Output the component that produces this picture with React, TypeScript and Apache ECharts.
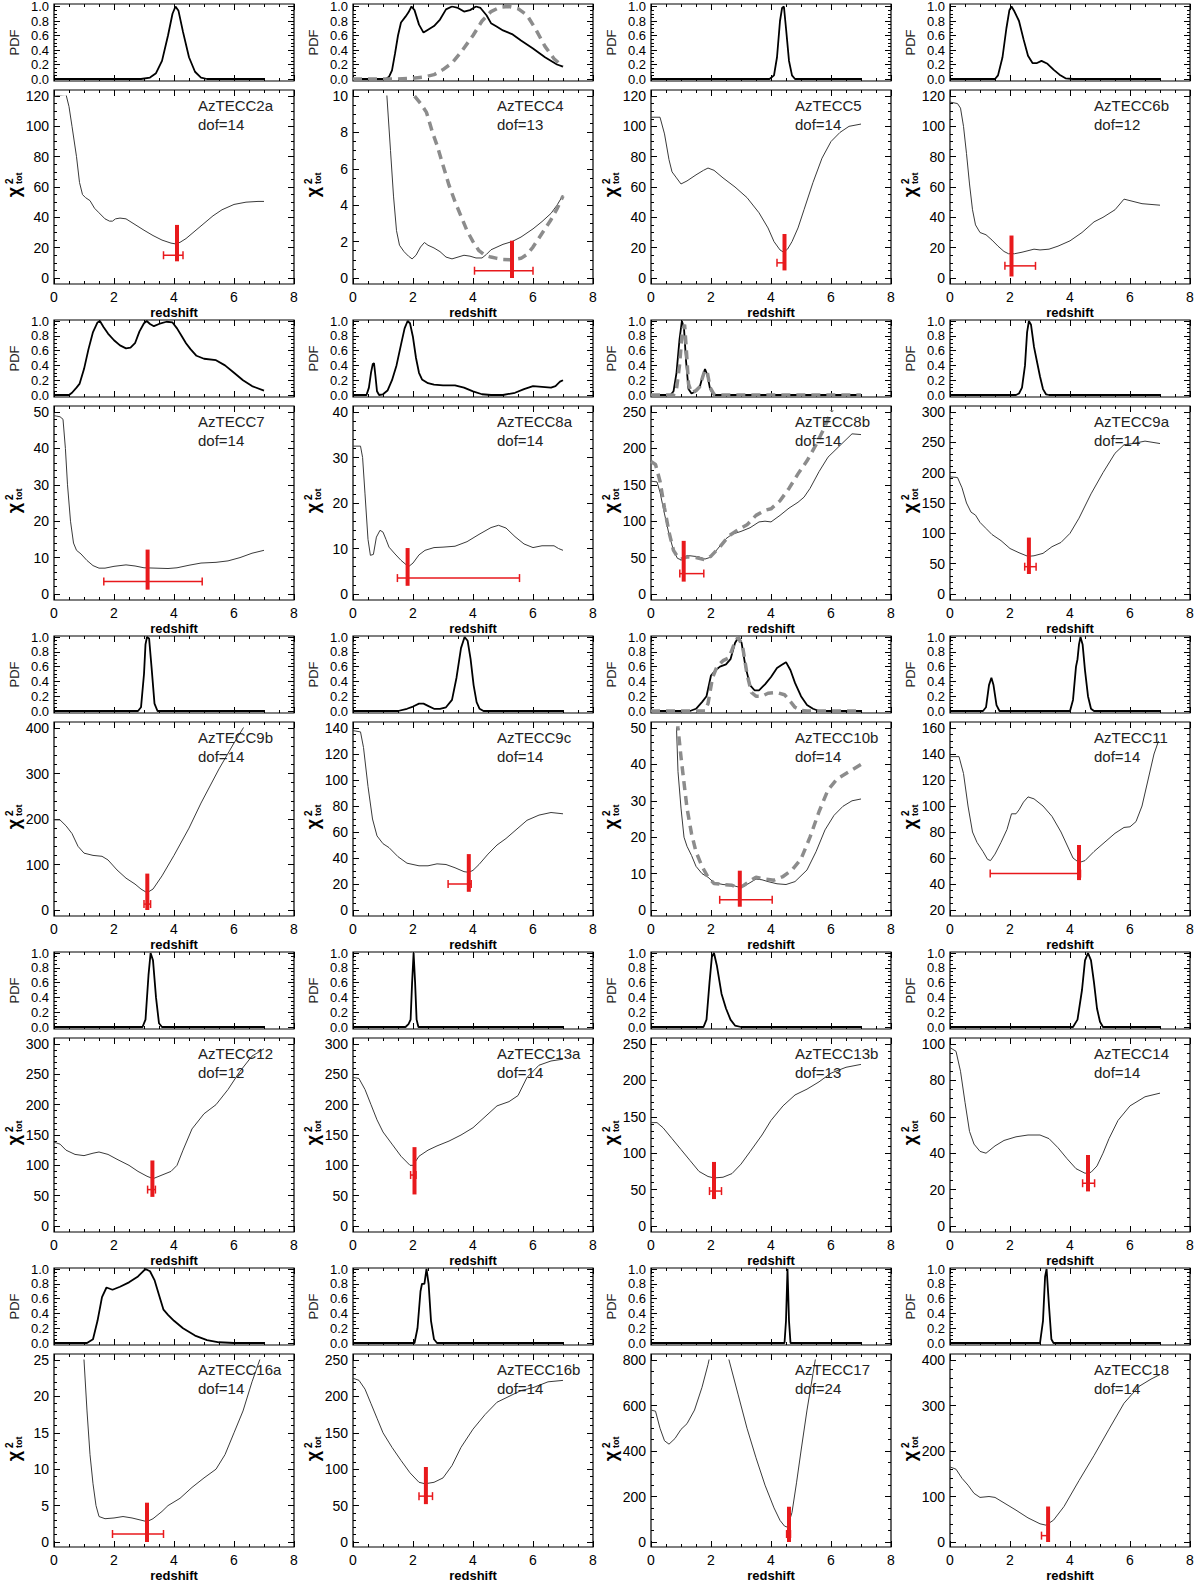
import React, { useEffect, useRef } from "react";
import * as echarts from "echarts";

type Pt = [number, number];

// ---------- data: [redshift, value] ----------
const pdfC2a: Pt[] = [[0,0],[2.9,0],[3.2,0.02],[3.4,0.08],[3.6,0.25],[3.8,0.6],[3.95,0.9],[4.05,1.0],[4.15,0.94],[4.3,0.65],[4.5,0.3],[4.7,0.1],[4.9,0.02],[5.1,0],[7,0]];
const chiC2a: Pt[] = [[0,120],[0.4,121],[0.5,113],[0.6,100],[0.75,80],[0.85,63],[0.95,55],[1.05,53],[1.2,51],[1.35,46],[1.5,43],[1.7,39],[1.85,37.5],[1.95,37.5],[2.05,39],[2.2,39.5],[2.4,39],[2.6,36.5],[2.8,34],[3.0,31.5],[3.3,28],[3.6,25],[3.9,23],[4.05,22.5],[4.2,23.5],[4.4,26],[4.7,31],[5.0,36],[5.3,41],[5.6,45],[6.0,48.5],[6.4,50],[6.8,50.5],[7.0,50.5]];
const fitC2a = [4.1, 11, 35, 3.65, 4.3, 15];

const pdfC4: Pt[] = [[0,0],[1.1,0],[1.2,0.03],[1.3,0.12],[1.4,0.35],[1.5,0.6],[1.6,0.78],[1.75,0.86],[1.85,0.92],[1.95,1.0],[2.05,0.95],[2.2,0.75],[2.35,0.64],[2.5,0.68],[2.7,0.73],[2.9,0.82],[3.1,0.96],[3.3,1.0],[3.5,0.98],[3.7,0.93],[3.9,0.95],[4.1,1.0],[4.25,0.98],[4.45,0.88],[4.6,0.77],[4.8,0.72],[5.0,0.67],[5.3,0.62],[5.6,0.53],[6.0,0.42],[6.4,0.3],[6.8,0.2],[7.0,0.17]];
const pdfC4Alt: Pt[] = [[0,0],[1.5,0],[2.0,0.01],[2.4,0.03],[2.7,0.06],[3.0,0.13],[3.3,0.22],[3.6,0.37],[4.0,0.6],[4.3,0.8],[4.6,0.93],[4.9,0.99],[5.2,1.0],[5.5,0.97],[5.8,0.88],[6.1,0.68],[6.4,0.45],[6.7,0.28],[7.0,0.17]];
const chiC4: Pt[] = [[1.0,14],[1.13,10],[1.25,7],[1.35,4.5],[1.45,2.6],[1.55,1.8],[1.7,1.45],[1.85,1.2],[1.97,1.05],[2.1,1.25],[2.25,1.7],[2.38,1.95],[2.5,1.8],[2.7,1.65],[2.9,1.45],[3.1,1.15],[3.3,1.05],[3.5,1.15],[3.7,1.25],[3.9,1.2],[4.1,1.1],[4.3,1.1],[4.45,1.3],[4.6,1.55],[4.8,1.7],[5.0,1.85],[5.3,2.0],[5.6,2.25],[6.0,2.7],[6.3,3.1],[6.6,3.55],[6.8,4.0],[7.0,4.55]];
const chiC4Alt: Pt[] = [[1.95,10.8],[2.05,10],[2.25,9.6],[2.45,9.1],[2.65,8.0],[2.8,7.3],[3.0,6.2],[3.2,5.1],[3.4,4.2],[3.6,3.4],[3.8,2.6],[4.0,2.0],[4.2,1.5],[4.4,1.25],[4.6,1.15],[4.8,1.08],[5.0,1.02],[5.3,1.0],[5.6,1.08],[5.8,1.3],[6.0,1.7],[6.2,2.2],[6.4,2.7],[6.6,3.2],[6.8,3.8],[7.0,4.5]];
const fitC4 = [5.3, 0, 2.05, 4.05, 6.0, 0.4];

const pdfC5: Pt[] = [[0,0],[3.95,0],[4.1,0.05],[4.2,0.3],[4.3,0.8],[4.37,0.98],[4.43,1.0],[4.5,0.7],[4.6,0.25],[4.7,0.05],[4.8,0],[7,0]];
const chiC5: Pt[] = [[0,106],[0.3,106],[0.45,95],[0.6,78],[0.7,70],[0.85,66],[1.0,62],[1.2,64],[1.5,68],[1.75,71],[1.9,72.5],[2.1,71],[2.4,66],[2.8,60],[3.2,53],[3.6,43],[3.9,33],[4.1,24],[4.3,18.5],[4.42,17],[4.55,19],[4.7,24],[4.9,33],[5.1,45],[5.4,63],[5.7,79],[6.0,90],[6.3,96],[6.6,100],[7.0,101.5]];
const fitC5 = [4.45, 5, 29, 4.2, 4.47, 10];

const pdfC6b: Pt[] = [[0,0],[1.5,0],[1.6,0.05],[1.75,0.3],[1.88,0.7],[1.98,0.95],[2.05,1.0],[2.15,0.93],[2.3,0.8],[2.45,0.55],[2.6,0.32],[2.75,0.22],[2.9,0.22],[3.05,0.25],[3.25,0.21],[3.45,0.13],[3.65,0.06],[3.85,0.01],[4.1,0],[7,0]];
const chiC6b: Pt[] = [[0,116],[0.25,115],[0.35,112],[0.45,100],[0.55,82],[0.65,62],[0.75,45],[0.85,35],[1.0,30],[1.2,28.5],[1.4,25],[1.6,21],[1.8,17.5],[1.95,16],[2.15,16],[2.4,17],[2.6,18],[2.8,19],[3.0,18.5],[3.3,19],[3.6,21],[4.0,24.5],[4.4,30],[4.8,37],[5.1,40],[5.5,45],[5.8,52],[6.0,51],[6.4,49],[7.0,48]];
const fitC6b = [2.05, 1, 28, 1.83, 2.85, 8];

const pdfC7: Pt[] = [[0,0],[0.5,0],[0.6,0.03],[0.75,0.1],[0.85,0.15],[1.0,0.35],[1.15,0.62],[1.3,0.85],[1.45,0.98],[1.53,1.0],[1.65,0.92],[1.8,0.83],[2.0,0.74],[2.2,0.67],[2.4,0.63],[2.55,0.64],[2.7,0.7],[2.85,0.86],[3.0,0.97],[3.09,1.0],[3.2,0.96],[3.33,0.93],[3.5,0.96],[3.75,0.99],[3.95,0.98],[4.1,0.9],[4.25,0.8],[4.4,0.7],[4.55,0.62],[4.75,0.53],[5.0,0.49],[5.4,0.47],[5.7,0.4],[6.0,0.3],[6.3,0.2],[6.6,0.12],[7.0,0.06]];
const chiC7: Pt[] = [[0,49],[0.2,48.7],[0.3,48],[0.38,40],[0.45,30],[0.55,20],[0.65,14],[0.75,12],[0.9,11],[1.1,9.2],[1.3,7.8],[1.5,7.1],[1.7,7.1],[2.0,7.6],[2.4,8.0],[2.7,7.7],[3.0,7.2],[3.4,7.1],[3.8,7.0],[4.1,7.2],[4.5,7.9],[4.9,8.5],[5.4,8.7],[5.8,9.1],[6.2,10.0],[6.6,11.2],[7.0,12.0]];
const fitC7 = [3.12, 1.2, 12.2, 1.66, 4.94, 3.4];

const pdfC8a: Pt[] = [[0,0],[0.45,0],[0.53,0.1],[0.6,0.3],[0.66,0.42],[0.7,0.43],[0.75,0.25],[0.8,0.05],[0.87,0],[1.0,0.01],[1.15,0.06],[1.3,0.2],[1.45,0.4],[1.6,0.68],[1.72,0.9],[1.82,1.0],[1.9,0.97],[2.0,0.78],[2.1,0.5],[2.2,0.3],[2.3,0.21],[2.5,0.16],[2.7,0.14],[3.0,0.13],[3.4,0.13],[3.7,0.1],[4.0,0.05],[4.3,0.01],[4.6,0],[5.0,0],[5.4,0.03],[5.7,0.08],[6.0,0.12],[6.3,0.11],[6.6,0.1],[6.75,0.12],[6.9,0.18],[7.0,0.2]];
const chiC8a: Pt[] = [[0,32.5],[0.25,32.5],[0.32,30],[0.4,22],[0.5,12],[0.58,8.5],[0.68,8.7],[0.78,12.5],[0.9,14],[1.0,13.6],[1.1,12],[1.2,10.3],[1.4,8.8],[1.6,7.4],[1.85,6],[2.0,6.8],[2.2,8.6],[2.4,9.6],[2.7,10.2],[3.0,10.3],[3.4,10.5],[3.8,11.5],[4.2,13.1],[4.6,14.6],[4.85,15.1],[5.1,14.5],[5.4,12.6],[5.7,11.0],[6.0,10.2],[6.3,10.6],[6.7,10.6],[6.85,10.0],[7.0,9.6]];
const fitC8a = [1.82, 1.8, 10.1, 1.48, 5.55, 3.5];

const pdfC8b: Pt[] = [[0,0],[0.65,0],[0.75,0.05],[0.85,0.3],[0.95,0.75],[1.03,1.0],[1.1,0.9],[1.17,0.45],[1.25,0.08],[1.35,0.02],[1.5,0.05],[1.62,0.1],[1.72,0.25],[1.8,0.35],[1.88,0.27],[1.97,0.08],[2.1,0],[7,0]];
const pdfC8bAlt: Pt[] = [[0,0],[0.75,0],[0.85,0.08],[0.95,0.4],[1.05,0.88],[1.12,0.95],[1.18,0.6],[1.25,0.15],[1.35,0.03],[1.5,0.06],[1.62,0.11],[1.72,0.24],[1.8,0.34],[1.88,0.3],[1.97,0.1],[2.1,0.01],[2.2,0],[7,0]];
const chiC8b: Pt[] = [[0,155],[0.2,154],[0.3,140],[0.45,110],[0.6,82],[0.75,60],[0.88,49],[1.0,47],[1.1,49],[1.2,53],[1.4,52],[1.6,51],[1.8,48],[1.95,50],[2.1,56],[2.3,66],[2.5,76],[2.7,82],[3.0,86],[3.3,91],[3.6,99],[3.8,100],[4.0,99],[4.3,108],[4.6,118],[4.9,126],[5.1,133],[5.3,145],[5.6,168],[5.9,188],[6.2,200],[6.5,212],[6.7,220],[7.0,219]];
const chiC8bAlt: Pt[] = [[0,182],[0.15,178],[0.3,155],[0.45,118],[0.6,85],[0.75,60],[0.9,50],[1.0,48],[1.2,51],[1.5,50],[1.8,47],[2.0,52],[2.3,65],[2.6,80],[2.9,88],[3.2,95],[3.5,108],[3.8,115],[4.0,117],[4.3,128],[4.6,145],[4.9,165],[5.2,183],[5.5,205],[5.8,230],[6.0,250],[6.2,268]];
const fitC8b = [1.09, 17, 73, 0.96, 1.76, 28];

const pdfC9a: Pt[] = [[0,0],[2.2,0],[2.3,0.02],[2.4,0.1],[2.5,0.4],[2.57,0.85],[2.63,1.0],[2.7,0.95],[2.8,0.65],[2.9,0.45],[3.0,0.25],[3.1,0.08],[3.2,0.01],[3.3,0],[7,0]];
const chiC9a: Pt[] = [[0,193],[0.25,192],[0.4,175],[0.55,150],[0.7,135],[0.85,130],[1.0,118],[1.2,108],[1.4,98],[1.7,88],[2.0,75],[2.3,68],[2.6,62],[2.8,63],[3.1,67],[3.4,78],[3.7,85],[4.0,100],[4.3,125],[4.7,165],[5.1,200],[5.5,232],[5.8,246],[6.1,248],[6.5,252],[7.0,248]];
const fitC9a = [2.63, 33, 93, 2.49, 2.87, 45];

const pdfC9b: Pt[] = [[0,0],[2.8,0],[2.9,0.05],[3.0,0.5],[3.05,0.9],[3.1,1.0],[3.17,0.98],[3.25,0.6],[3.35,0.1],[3.45,0],[7,0]];
const chiC9b: Pt[] = [[0,198],[0.2,198],[0.4,185],[0.6,168],[0.8,140],[1.0,125],[1.3,120],[1.6,118],[1.8,110],[2.1,88],[2.4,70],[2.7,57],[2.9,46],[3.1,38],[3.3,46],[3.6,75],[4.0,120],[4.5,180],[4.9,235],[5.5,310],[6.0,367],[6.4,410]];
const fitC9b = [3.11, 0, 80, 3.0, 3.22, 13];

const pdfC9c: Pt[] = [[0,0],[1.5,0],[1.8,0.03],[2.0,0.06],[2.2,0.1],[2.35,0.1],[2.5,0.07],[2.7,0.03],[2.9,0.03],[3.1,0.05],[3.3,0.15],[3.45,0.45],[3.6,0.85],[3.72,1.0],[3.82,0.95],[3.92,0.7],[4.02,0.35],[4.12,0.12],[4.22,0.03],[4.35,0],[7,0]];
const chiC9c: Pt[] = [[0,138],[0.25,137],[0.35,125],[0.5,95],[0.65,70],[0.8,57],[1.0,51],[1.2,48],[1.5,41],[1.8,36],[2.2,34],[2.5,34],[2.8,35.5],[3.1,35],[3.4,32.5],[3.7,29.5],[3.86,29],[4.0,30.5],[4.2,35],[4.5,43],[4.8,50],[5.1,55],[5.4,61],[5.8,69],[6.2,73],[6.6,75],[7.0,74]];
const fitC9c = [3.86, 14, 43, 3.17, 3.94, 20];

const pdfC10b: Pt[] = [[0,0],[1.3,0],[1.5,0.03],[1.7,0.12],[1.85,0.2],[2.0,0.48],[2.15,0.55],[2.3,0.6],[2.5,0.63],[2.65,0.7],[2.8,0.92],[2.92,1.0],[3.02,0.92],[3.15,0.6],[3.3,0.35],[3.45,0.28],[3.6,0.28],[3.8,0.36],[4.0,0.46],[4.2,0.58],[4.35,0.62],[4.5,0.66],[4.65,0.55],[4.8,0.38],[5.0,0.2],[5.2,0.08],[5.4,0.03],[5.6,0],[7,0]];
const pdfC10bAlt: Pt[] = [[0,0],[1.8,0],[1.9,0.1],[2.05,0.45],[2.2,0.6],[2.4,0.68],[2.6,0.72],[2.75,0.88],[2.9,1.0],[3.05,0.88],[3.2,0.5],[3.35,0.25],[3.5,0.2],[3.7,0.2],[3.9,0.24],[4.2,0.25],[4.45,0.22],[4.6,0.15],[4.8,0.05],[5.0,0.01],[5.2,0],[7,0]];
const chiC10b: Pt[] = [[0.8,60],[0.85,50],[0.9,38],[1.0,28],[1.1,20],[1.2,17.5],[1.35,15],[1.5,12],[1.7,10],[1.9,9],[2.1,7.5],[2.4,7],[2.7,6.8],[2.92,6.3],[3.1,6.5],[3.3,7.5],[3.5,8.5],[3.7,8.3],[3.9,7.8],[4.2,7.2],[4.5,7.0],[4.8,7.8],[5.2,11],[5.5,16],[5.8,22],[6.1,26],[6.4,28.5],[6.7,30],[7.0,30.5]];
const chiC10bAlt: Pt[] = [[0.8,60],[0.9,50],[1.0,42],[1.1,35],[1.2,28],[1.35,21],[1.5,16],[1.7,12],[1.9,9],[2.1,7.3],[2.4,7],[2.7,6.8],[2.92,6],[3.1,6.8],[3.3,8],[3.5,9],[3.8,8.5],[4.1,8.2],[4.4,9.2],[4.7,11],[5.0,14],[5.3,20],[5.6,27],[5.9,33],[6.2,36],[6.6,38],[7.0,40]];
const fitC10b = [2.96, 0.9, 10.8, 2.29, 4.04, 2.8];

const pdfC11: Pt[] = [[0,0],[1.1,0],[1.2,0.05],[1.3,0.35],[1.38,0.45],[1.45,0.35],[1.55,0.08],[1.65,0],[4.0,0],[4.1,0.15],[4.2,0.6],[4.25,0.7],[4.3,0.9],[4.35,1.0],[4.42,0.9],[4.5,0.55],[4.6,0.2],[4.7,0.03],[4.8,0],[7,0]];
const chiC11: Pt[] = [[0,138],[0.3,138],[0.45,125],[0.6,100],[0.75,80],[0.9,72],[1.1,65],[1.25,59],[1.35,58],[1.5,63],[1.7,72],[1.9,82],[2.05,94],[2.2,94],[2.3,97],[2.45,103],[2.6,107],[2.8,105.5],[3.1,100],[3.4,92],[3.7,80],[3.9,70],[4.1,60],[4.3,56.5],[4.5,58],[4.8,65],[5.1,71],[5.5,79],[5.8,83.5],[6.0,84],[6.2,88],[6.4,100],[6.6,120],[6.8,140],[6.95,150]];
const fitC11 = [4.3, 43, 70, 1.34, 4.35, 48];

const pdfC12: Pt[] = [[0,0],[2.95,0],[3.05,0.1],[3.15,0.7],[3.22,1.0],[3.3,0.9],[3.4,0.4],[3.5,0.05],[3.6,0],[7,0]];
const chiC12: Pt[] = [[0,138],[0.2,135],[0.4,125],[0.7,118],[1.0,116],[1.3,120],[1.5,122],[1.8,118],[2.1,110],[2.5,100],[2.8,90],[3.1,82],[3.3,78],[3.6,84],[3.9,90],[4.1,100],[4.3,125],[4.6,160],[5.0,185],[5.4,200],[5.8,225],[6.2,255],[6.6,280],[7.0,292]];
const fitC12 = [3.28, 48, 108, 3.12, 3.38, 60];

const pdfC13a: Pt[] = [[0,0],[1.75,0],[1.85,0.04],[1.92,0.1],[1.97,0.6],[2.02,1.0],[2.07,0.6],[2.12,0.1],[2.18,0],[7,0]];
const chiC13a: Pt[] = [[0,245],[0.2,243],[0.4,225],[0.6,200],[0.8,175],[1.0,155],[1.3,135],[1.6,115],[1.9,100],[2.0,100],[2.2,115],[2.5,125],[2.8,132],[3.2,140],[3.6,150],[4.0,162],[4.4,180],[4.8,198],[5.2,205],[5.5,215],[5.8,245],[6.2,265],[6.6,272],[7.0,275]];
const fitC13a = [2.05, 52, 130, 1.92, 2.1, 84];

const pdfC13b: Pt[] = [[0,0],[1.75,0],[1.85,0.1],[1.95,0.6],[2.03,0.95],[2.1,1.0],[2.2,0.82],[2.35,0.45],[2.5,0.25],[2.65,0.1],[2.8,0.02],[3.0,0],[7,0]];
const chiC13b: Pt[] = [[0,142],[0.2,142],[0.4,135],[0.7,120],[1.0,105],[1.3,90],[1.6,75],[1.9,68],[2.1,66],[2.4,67],[2.7,72],[3.0,85],[3.3,102],[3.7,125],[4.0,145],[4.4,165],[4.8,180],[5.2,188],[5.6,198],[6.0,210],[6.5,218],[7.0,222]];
const fitC13b = [2.1, 37, 88, 1.95, 2.35, 48];

const pdfC14: Pt[] = [[0,0],[4.1,0],[4.25,0.1],[4.4,0.5],[4.5,0.9],[4.6,1.0],[4.7,0.9],[4.8,0.6],[4.9,0.25],[5.0,0.07],[5.1,0],[7,0]];
const chiC14: Pt[] = [[0,98],[0.2,96],[0.35,85],[0.5,68],[0.65,52],[0.8,45],[1.0,41],[1.2,40],[1.5,44],[1.8,47],[2.2,49],[2.6,50],[3.0,50],[3.3,48],[3.6,43],[3.9,37],[4.2,31.5],[4.5,29],[4.7,29.5],[4.9,33],[5.1,40],[5.3,48],[5.6,58],[6.0,66],[6.5,71],[7.0,73]];
const fitC14 = [4.6, 19, 39, 4.42, 4.82, 23.5];

const pdfC16a: Pt[] = [[0,0],[1.1,0],[1.3,0.05],[1.45,0.3],[1.6,0.62],[1.75,0.75],[1.95,0.72],[2.2,0.76],[2.5,0.82],[2.8,0.9],[3.05,1.0],[3.2,0.97],[3.35,0.85],[3.5,0.65],[3.65,0.45],[3.8,0.38],[4.0,0.3],[4.3,0.2],[4.7,0.1],[5.1,0.04],[5.5,0.01],[6.0,0],[7,0]];
const chiC16a: Pt[] = [[0.95,28],[1.0,25],[1.1,18],[1.2,12],[1.3,8],[1.4,5],[1.5,3.5],[1.7,3.2],[2.0,3.3],[2.3,3.5],[2.6,3.3],[2.9,3.0],[3.1,2.8],[3.3,3.2],[3.6,4.2],[3.8,5.0],[4.2,6.0],[4.6,7.5],[5.0,8.8],[5.4,10],[5.7,12],[6.0,15],[6.3,18],[6.6,22],[6.9,25.5]];
const fitC16a = [3.1, 0, 5.4, 1.95, 3.65, 1.1];

const pdfC16b: Pt[] = [[0,0],[2.05,0],[2.15,0.2],[2.25,0.7],[2.3,0.8],[2.38,0.8],[2.45,1.0],[2.52,0.8],[2.6,0.3],[2.7,0.05],[2.8,0],[7,0]];
const chiC16b: Pt[] = [[0,225],[0.2,222],[0.4,210],[0.6,190],[0.8,170],[1.0,150],[1.3,130],[1.6,112],[1.9,95],[2.2,82],[2.4,80],[2.7,82],[3.0,88],[3.3,105],[3.6,130],[4.0,155],[4.4,175],[4.8,192],[5.2,200],[5.6,208],[6.0,212],[6.5,220],[7.0,222]];
const fitC16b = [2.43, 52, 103, 2.2, 2.65, 63];

const pdfC17: Pt[] = [[0,0],[4.45,0],[4.5,0.3],[4.55,1.0],[4.6,0.3],[4.65,0],[7,0]];
const chiC17: Pt[] = [[0,580],[0.15,575],[0.3,500],[0.45,445],[0.6,430],[0.8,455],[1.0,495],[1.2,520],[1.45,580],[1.7,680],[1.9,780],[2.0,840],[2.5,860],[2.6,800],[2.9,650],[3.2,500],[3.5,370],[3.8,250],[4.1,150],[4.3,95],[4.45,70],[4.55,65],[4.7,130],[4.85,260],[5.0,400],[5.2,580],[5.4,740],[5.55,860]];
const fitC17 = [4.6, 0, 155, 4.52, 4.65, 35];

const pdfC18: Pt[] = [[0,0],[3.0,0],[3.1,0.3],[3.17,0.9],[3.22,1.0],[3.3,0.5],[3.38,0.05],[3.45,0],[7,0]];
const chiC18: Pt[] = [[0,165],[0.2,160],[0.4,140],[0.6,125],[0.8,107],[1.0,98],[1.3,100],[1.5,98],[1.8,86],[2.2,70],[2.6,53],[3.0,40],[3.2,37],[3.45,48],[3.8,78],[4.3,135],[4.8,190],[5.3,248],[5.8,305],[6.3,342],[6.7,358],[7.0,368]];
const fitC18 = [3.27, 0, 78, 3.05, 3.3, 14];

// chi^2 axis scales [min, max, step]
const chiScales: number[][] = [
  [0, 120, 20], [0, 10, 2], [0, 120, 20], [0, 120, 20],
  [0, 50, 10], [0, 40, 10], [0, 250, 50], [0, 300, 50],
  [0, 400, 100], [0, 140, 20], [0, 50, 10], [20, 160, 20],
  [0, 300, 50], [0, 300, 50], [0, 250, 50], [0, 100, 20],
  [0, 25, 5], [0, 250, 50], [0, 800, 200], [0, 400, 100],
];
const sourceNames = ["AzTECC2a","AzTECC4","AzTECC5","AzTECC6b","AzTECC7","AzTECC8a","AzTECC8b","AzTECC9a","AzTECC9b","AzTECC9c","AzTECC10b","AzTECC11","AzTECC12","AzTECC13a","AzTECC13b","AzTECC14","AzTECC16a","AzTECC16b","AzTECC17","AzTECC18"];
const dofs = [14, 13, 14, 12, 14, 14, 14, 14, 14, 14, 14, 14, 12, 14, 13, 14, 14, 14, 24, 14];
const pdfMain = [pdfC2a, pdfC4, pdfC5, pdfC6b, pdfC7, pdfC8a, pdfC8b, pdfC9a, pdfC9b, pdfC9c, pdfC10b, pdfC11, pdfC12, pdfC13a, pdfC13b, pdfC14, pdfC16a, pdfC16b, pdfC17, pdfC18];
const pdfAlt: (Pt[] | null)[] = [null, pdfC4Alt, null, null, null, null, pdfC8bAlt, null, null, null, pdfC10bAlt, null, null, null, null, null, null, null, null, null];
const chiMain = [chiC2a, chiC4, chiC5, chiC6b, chiC7, chiC8a, chiC8b, chiC9a, chiC9b, chiC9c, chiC10b, chiC11, chiC12, chiC13a, chiC13b, chiC14, chiC16a, chiC16b, chiC17, chiC18];
const chiAlt: (Pt[] | null)[] = [null, chiC4Alt, null, null, null, null, chiC8bAlt, null, null, null, chiC10bAlt, null, null, null, null, null, null, null, null, null];
const fits = [fitC2a, fitC4, fitC5, fitC6b, fitC7, fitC8a, fitC8b, fitC9a, fitC9b, fitC9c, fitC10b, fitC11, fitC12, fitC13a, fitC13b, fitC14, fitC16a, fitC16b, fitC17, fitC18];

// ---------- styling / layout ----------
const FONT = "'Liberation Sans', Arial, 'DejaVu Sans', sans-serif";
const RED = "#e8191c";
const GRAY = "#8c8c8c";

function minorSplit(step: number) {
  const lead = Math.round(step / Math.pow(10, Math.floor(Math.log10(step) + 1e-9)));
  return lead === 2 ? 4 : 5;
}

function buildOption() {
  const grid: any[] = [];
  const xAxis: any[] = [];
  const yAxis: any[] = [];
  const series: any[] = [];
  const graphic: any[] = [];

  const tick = { show: true, inside: true, length: 6, lineStyle: { color: "#000", width: 1 } };
  const minor = (n: number) => ({ show: true, splitNumber: n, length: 3, lineStyle: { color: "#000", width: 1 } });

  const addBox = (left: number, top: number, w: number, h: number, labels: boolean) => {
    const gi = grid.length;
    grid.push({ left, top, width: w, height: h, show: true, borderColor: "#000", borderWidth: 1.2, backgroundColor: "transparent" });
    xAxis.push({
      gridIndex: gi, type: "value", position: "bottom", min: 0, max: 8, interval: 2,
      axisLine: { show: false }, axisTick: tick, minorTick: minor(4),
      splitLine: { show: false }, minorSplitLine: { show: false },
      axisLabel: { show: labels, margin: 6, fontSize: 14, color: "#000", fontFamily: FONT },
      name: labels ? "redshift" : "", nameLocation: "middle", nameGap: 22,
      nameTextStyle: { fontSize: 13, fontWeight: "bold", color: "#000", fontFamily: FONT },
    });
    xAxis.push({
      gridIndex: gi, type: "value", position: "top", min: 0, max: 8, interval: 2,
      axisLine: { show: false }, axisTick: tick, minorTick: minor(4),
      splitLine: { show: false }, axisLabel: { show: false },
    });
    yAxis.push({ gridIndex: gi, type: "value", show: false, min: 0, max: 1 });
  };

  const addInner = (left: number, top: number, w: number, h: number, ymin: number, ymax: number, step: number, fs: number, fmt?: (v: number) => string) => {
    const gi = grid.length;
    grid.push({ left, top, width: w, height: h, show: false });
    const xi = xAxis.length;
    xAxis.push({ gridIndex: gi, type: "value", min: 0, max: 8, show: false });
    const yi = yAxis.length;
    const common = {
      gridIndex: gi, type: "value", min: ymin, max: ymax, interval: step,
      axisLine: { show: false }, axisTick: tick, minorTick: minor(minorSplit(step)),
      splitLine: { show: false }, minorSplitLine: { show: false },
    };
    yAxis.push({ ...common, position: "left", axisLabel: { margin: 5, fontSize: fs, color: "#000", fontFamily: FONT, formatter: fmt } });
    yAxis.push({ ...common, position: "right", axisLabel: { show: false } });
    return { xi, yi };
  };

  const lineSeries = (xi: number, yi: number, data: Pt[], style: any, z: number) => ({
    type: "line", xAxisIndex: xi, yAxisIndex: yi, data, showSymbol: false, symbol: "none",
    lineStyle: style, silent: true, clip: true, z, animation: false,
  });

  const BOXW = 240;
  for (let i = 0; i < 20; i++) {
    const c = i % 4;
    const r = Math.floor(i / 4);
    const left = Math.round(54 + 298.5 * c);
    const off = 316 * r;
    const pTop = 4 + off, pH = 77;
    const cTop = 90 + off, cH = 194;

    // PDF panel
    addBox(left, pTop, BOXW, pH, false);
    const pa = addInner(left, pTop + 1, BOXW, pH - 3, 0, 1, 0.2, 13, (v: number) => v.toFixed(1));
    series.push(lineSeries(pa.xi, pa.yi, pdfMain[i], { color: "#000", width: 1.8 }, 3));
    const pAlt = pdfAlt[i];
    if (pAlt) series.push(lineSeries(pa.xi, pa.yi, pAlt, { color: GRAY, width: 3.5, type: [9, 6] }, 4));

    // chi2 panel
    const [ymin, ymax, step] = chiScales[i];
    addBox(left, cTop, BOXW, cH, true);
    const ca = addInner(left, cTop + 6, BOXW, cH - 12, ymin, ymax, step, 14);
    series.push(lineSeries(ca.xi, ca.yi, chiMain[i], { color: "#3a3a3a", width: 1 }, 3));
    const cAlt = chiAlt[i];
    if (cAlt) series.push(lineSeries(ca.xi, ca.yi, cAlt, { color: GRAY, width: 3.5, type: [9, 6] }, 4));

    series.push({
      type: "custom", xAxisIndex: ca.xi, yAxisIndex: ca.yi, silent: true, z: 6,
      data: [fits[i]],
      encode: { x: [0, 3, 4], y: [1, 2, 5] },
      renderItem: (_p: any, api: any) => {
        const zb = api.value(0), ylo = api.value(1), yhi = api.value(2);
        const zlo = api.value(3), zhi = api.value(4), yh = api.value(5);
        const v1 = api.coord([zb, ylo]);
        const v2 = api.coord([zb, yhi]);
        const h1 = api.coord([zlo, yh]);
        const h2 = api.coord([zhi, yh]);
        const thin = { stroke: RED, lineWidth: 1.5 };
        return {
          type: "group",
          children: [
            { type: "line", shape: { x1: h1[0], y1: h1[1], x2: h2[0], y2: h2[1] }, style: thin },
            { type: "line", shape: { x1: h1[0], y1: h1[1] - 4, x2: h1[0], y2: h1[1] + 4 }, style: thin },
            { type: "line", shape: { x1: h2[0], y1: h2[1] - 4, x2: h2[0], y2: h2[1] + 4 }, style: thin },
            { type: "line", shape: { x1: v1[0], y1: v1[1], x2: v2[0], y2: v2[1] }, style: { stroke: RED, lineWidth: 4 } },
          ],
        };
      },
    });

    // labels
    graphic.push({
      type: "group", x: left - 40, y: pTop + pH / 2, rotation: Math.PI / 2,
      children: [{ type: "text", x: 0, y: 0, style: { text: "PDF", font: `13px ${FONT}`, fill: "#222", textAlign: "center", textVerticalAlign: "middle" } }],
    });
    graphic.push({
      type: "group", x: left - 40, y: cTop + cH / 2, rotation: Math.PI / 2,
      children: [
        { type: "text", x: -5, y: 0, style: { text: "χ", font: `bold 18px ${FONT}`, fill: "#000", textAlign: "center", textVerticalAlign: "middle" } },
        { type: "text", x: 3, y: -5, style: { text: "2", font: `bold 10px ${FONT}`, fill: "#000", textAlign: "left", textVerticalAlign: "middle" } },
        { type: "text", x: 3, y: 5, style: { text: "tot", font: `bold 9px ${FONT}`, fill: "#000", textAlign: "left", textVerticalAlign: "middle" } },
      ],
    });
    graphic.push({ type: "text", x: left + 144, y: cTop + 15, z: 10, style: { text: sourceNames[i], font: `15px ${FONT}`, fill: "#222", textAlign: "left", textVerticalAlign: "middle" } });
    graphic.push({ type: "text", x: left + 144, y: cTop + 34, z: 10, style: { text: `dof=${dofs[i]}`, font: `15px ${FONT}`, fill: "#222", textAlign: "left", textVerticalAlign: "middle" } });
  }

  return { animation: false, backgroundColor: "#fff", grid, xAxis, yAxis, series, graphic };
}

export default function App() {
  const ref = useRef<HTMLDivElement>(null);
  useEffect(() => {
    if (!ref.current) return;
    const chart = echarts.init(ref.current, null, { renderer: "svg" });
    chart.setOption(buildOption() as any);
    return () => chart.dispose();
  }, []);
  return <div ref={ref} style={{ position: "absolute", left: 0, top: 0, width: 1200, height: 1583 }} />;
}
